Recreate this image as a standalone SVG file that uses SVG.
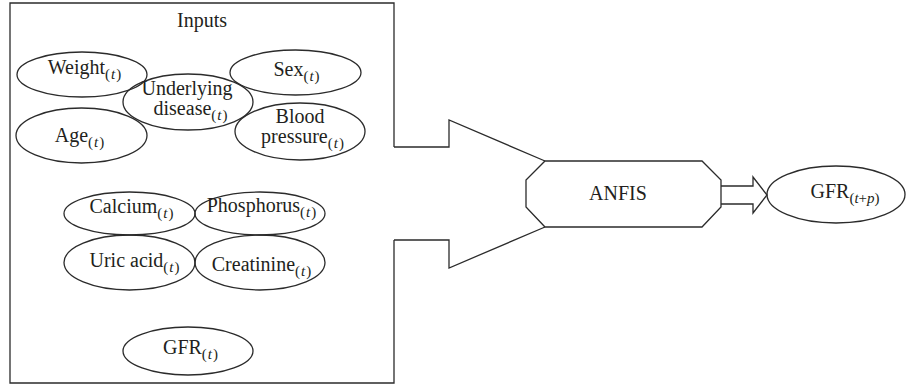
<svg xmlns="http://www.w3.org/2000/svg" width="908" height="385" viewBox="0 0 908 385">
<style>
.s{fill:none;stroke:#2b2b2b;stroke-width:1.3;stroke-linejoin:miter}
.e{fill:none;stroke:#2b2b2b;stroke-width:1.3}
text{font-family:"Liberation Serif","Times New Roman",serif;font-size:20px;fill:#231f20;text-anchor:middle}
.sub{font-size:15px;letter-spacing:1px}
.i{font-style:italic}
</style>
<rect width="908" height="385" fill="#fff"/>
<g id="inputs">
<path class="s" d="M394,147 L394,3 L10,3 L10,383 L394,383 L394,240"/>
<text x="202" y="27">Inputs</text>
</g>
<g id="weight"><ellipse class="e" cx="82" cy="74.5" rx="65" ry="22.5"/><text x="85" y="74">Weight<tspan class="sub" dy="5">(<tspan class="i">t</tspan>)</tspan></text></g>
<g id="sex"><ellipse class="e" cx="295.5" cy="72.5" rx="65.5" ry="22.5"/><text x="297" y="76">Sex<tspan class="sub" dy="5">(<tspan class="i">t</tspan>)</tspan></text></g>
<g id="underlying-disease"><ellipse class="e" cx="188" cy="102" rx="65" ry="28"/><text x="187" y="95">Underlying</text><text x="191" y="115">disease<tspan class="sub" dy="5">(<tspan class="i">t</tspan>)</tspan></text></g>
<g id="age"><ellipse class="e" cx="81.5" cy="135.5" rx="65.5" ry="27.5"/><text x="80" y="142">Age<tspan class="sub" dy="5">(<tspan class="i">t</tspan>)</tspan></text></g>
<g id="blood-pressure"><ellipse class="e" cx="300" cy="131.5" rx="65" ry="28.5"/><text x="300" y="123">Blood</text><text x="303" y="143">pressure<tspan class="sub" dy="5">(<tspan class="i">t</tspan>)</tspan></text></g>
<g id="calcium"><ellipse class="e" cx="129.5" cy="213.5" rx="65.5" ry="21.5"/><text x="132" y="213">Calcium<tspan class="sub" dy="5">(<tspan class="i">t</tspan>)</tspan></text></g>
<g id="phosphorus"><ellipse class="e" cx="260" cy="213.5" rx="65" ry="21.5"/><text x="262" y="212">Phosphorus<tspan class="sub" dy="5">(<tspan class="i">t</tspan>)</tspan></text></g>
<g id="uric-acid"><ellipse class="e" cx="129.5" cy="262.5" rx="65.5" ry="27.5"/><text x="135" y="267">Uric acid<tspan class="sub" dy="5">(<tspan class="i">t</tspan>)</tspan></text></g>
<g id="creatinine"><ellipse class="e" cx="260" cy="262.5" rx="65" ry="27.5"/><text x="262" y="271">Creatinine<tspan class="sub" dy="5">(<tspan class="i">t</tspan>)</tspan></text></g>
<g id="gfr-t"><ellipse class="e" cx="188" cy="351" rx="65" ry="24"/><text x="191" y="354">GFR<tspan class="sub" dy="5">(<tspan class="i">t</tspan>)</tspan></text></g>
<g id="anfis">
<polygon class="s" points="545,161 702,161 721,180 721,207 702,227 545,227 526,207 526,180"/>
<text x="618" y="200">ANFIS</text>
</g>
<g id="gfr-tp"><ellipse class="e" cx="836" cy="194.5" rx="69" ry="28.5"/><text x="845" y="198">GFR<tspan class="sub" dy="5" style="letter-spacing:0">(<tspan class="i">t</tspan>+<tspan class="i">p</tspan>)</tspan></text></g>
<g id="connectors">
<path class="s" d="M394,147 L449,147 L449,120 L545,161"/>
<path class="s" d="M394,240 L449,240 L449,268 L545,227"/>
<path class="s" d="M721,186 L753,186 L753,177 L767,195 L753,213 L753,204 L721,204"/>
</g>
</svg>
